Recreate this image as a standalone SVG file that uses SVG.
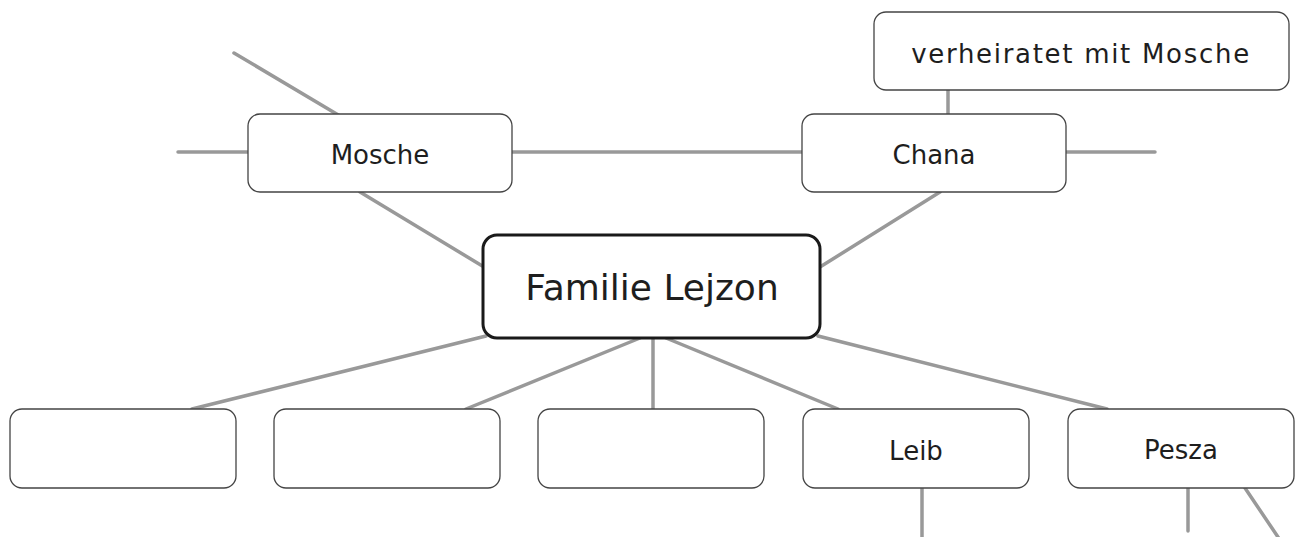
<svg xmlns="http://www.w3.org/2000/svg" width="1300" height="537" viewBox="0 0 1300 537">
<style>
.node rect{fill:#fff;stroke:#444;stroke-width:1.3}
.main rect{fill:#fff;stroke:#1a1a1a;stroke-width:3}
text{font-family:"DejaVu Sans","Liberation Sans",sans-serif;font-size:26px;fill:#1e1e1e;text-anchor:middle}
#connectors line{stroke:#999;stroke-width:3.5;stroke-linecap:round}
</style>
<rect width="1300" height="537" fill="#fff"/>
<g id="connectors">
<line x1="234" y1="53" x2="340" y2="116"/>
<line x1="178" y1="152" x2="248" y2="152"/>
<line x1="512" y1="152" x2="802" y2="152"/>
<line x1="1066" y1="152" x2="1155" y2="152"/>
<line x1="948" y1="90" x2="948" y2="114"/>
<line x1="360" y1="192" x2="484" y2="267"/>
<line x1="940" y1="192" x2="820" y2="267"/>
<line x1="486" y1="336" x2="192" y2="409"/>
<line x1="640" y1="338" x2="466" y2="409"/>
<line x1="653" y1="338" x2="653" y2="409"/>
<line x1="666" y1="338" x2="838" y2="409"/>
<line x1="818" y1="336" x2="1107" y2="409"/>
<line x1="922" y1="488" x2="922" y2="540"/>
<line x1="1188" y1="488" x2="1188" y2="531"/>
<line x1="1245" y1="488" x2="1280" y2="540"/>
</g>
<g id="n-verheiratet" class="node"><rect x="874" y="12" width="415" height="78" rx="12"/><text x="1081" y="63" style="letter-spacing:1.7px">verheiratet mit Mosche</text></g>
<g id="n-mosche" class="node"><rect x="248" y="114" width="264" height="78" rx="12"/><text x="380" y="164">Mosche</text></g>
<g id="n-chana" class="node"><rect x="802" y="114" width="264" height="78" rx="12"/><text x="934" y="164">Chana</text></g>
<g id="n-familie" class="main"><rect x="483" y="235" width="337" height="103" rx="14"/><text x="652" y="300" style="font-size:36px">Familie Lejzon</text></g>
<g id="n-b1" class="node"><rect x="10" y="409" width="226" height="79" rx="12"/></g>
<g id="n-b2" class="node"><rect x="274" y="409" width="226" height="79" rx="12"/></g>
<g id="n-b3" class="node"><rect x="538" y="409" width="226" height="79" rx="12"/></g>
<g id="n-leib" class="node"><rect x="803" y="409" width="226" height="79" rx="12"/><text x="916" y="460">Leib</text></g>
<g id="n-pesza" class="node"><rect x="1068" y="409" width="226" height="79" rx="12"/><text x="1181" y="459">Pesza</text></g>
</svg>
